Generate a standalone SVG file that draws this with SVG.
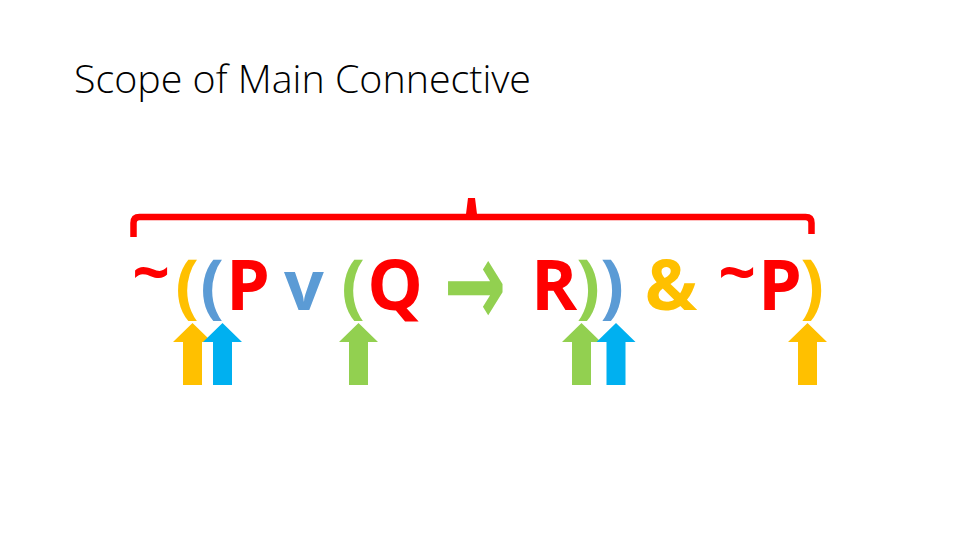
<svg xmlns="http://www.w3.org/2000/svg" xmlns:xlink="http://www.w3.org/1999/xlink" width="960" height="540" viewBox="0 0 960 540">
<style>
.title{font-family:"Open Sans","Noto Sans","Liberation Sans",sans-serif;font-weight:300;font-size:39px;fill:#000}
.f{font-family:"Open Sans","Noto Sans","Liberation Sans",sans-serif;font-weight:700;font-size:70px;text-anchor:middle}
.t{font-size:66px}
.arrowch{font-family:"DejaVu Sans",sans-serif;font-weight:700;font-size:120px;text-anchor:middle}
.red{fill:#FF0000}.yel{fill:#FFC000}.pblue{fill:#5B9BD5}.grn{fill:#92D050}.ablue{fill:#00B0F0}
.brace{fill:none;stroke:#FF0000;stroke-width:6.5;stroke-linejoin:round}
</style>
<defs>
<path id="arr" d="M0 0 L19.5 19 L9.5 19 L9.5 62 L-9.5 62 L-9.5 19 L-19.5 19 Z"/>
</defs>
<rect width="960" height="540" fill="#fff"/>
<text id="title" class="title" x="74" y="93" textLength="457" lengthAdjust="spacingAndGlyphs">Scope of Main Connective</text>
<g id="brace">
<path class="brace" d="M133.5 237 L133.5 223 Q133.5 217 139.5 217 L805.5 217 Q811.5 217 811.5 223 L811.5 234"/>
<path d="M466 214 L468 198 L475 198 L477 214 Z" fill="#FF0000"/>
</g>
<g id="formula">
<text class="f t red" x="151" y="296">~</text>
<text class="f yel" x="187" y="310">(</text>
<text class="f pblue" x="212" y="310">(</text>
<text class="f red" x="248" y="310">P</text>
<text class="f pblue" x="304" y="310">v</text>
<text class="f grn" x="353" y="310">(</text>
<text class="f red" x="395" y="310">Q</text>
<text class="arrowch grn" transform="translate(475 287) scale(0.62 1)" x="0" y="39">→</text>
<text class="f red" x="554" y="310">R</text>
<text class="f grn" x="588" y="310">)</text>
<text class="f pblue" x="612" y="310">)</text>
<text class="f yel" x="671" y="310">&amp;</text>
<text class="f t red" x="737" y="296">~</text>
<text class="f red" x="780" y="310">P</text>
<text class="f yel" x="812" y="310">)</text>
</g>
<g id="arrows">
<use xlink:href="#arr" href="#arr" class="yel" x="192.5" y="323"/>
<use xlink:href="#arr" href="#arr" class="ablue" x="222.5" y="323"/>
<use xlink:href="#arr" href="#arr" class="grn" x="358.5" y="323"/>
<use xlink:href="#arr" href="#arr" class="grn" x="581.5" y="323"/>
<use xlink:href="#arr" href="#arr" class="ablue" x="616" y="323"/>
<use xlink:href="#arr" href="#arr" class="yel" x="807.5" y="323"/>
</g>
</svg>
